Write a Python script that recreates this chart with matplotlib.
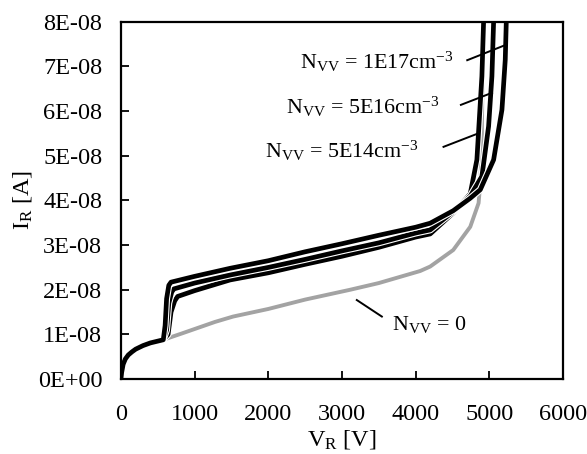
import matplotlib
matplotlib.use("Agg")
import matplotlib.pyplot as plt
import matplotlib.patheffects as pe

plt.rcParams['font.family'] = ['Liberation Serif', 'DejaVu Serif']
plt.rcParams['mathtext.fontset'] = 'custom'
plt.rcParams['mathtext.rm'] = 'Liberation Serif'
plt.rcParams['mathtext.it'] = 'Liberation Serif:italic'

# reverse voltage [V] and leakage current [1E-08 A]
v_start = [0, 10, 30, 60, 100, 150, 200, 300, 400, 500, 575]
i_start = [0, 0.15, 0.33, 0.45, 0.54, 0.61, 0.67, 0.75, 0.81, 0.85, 0.88]

v_0 = [824, 1277, 1522, 2000, 2500, 3111, 3500, 4062, 4198, 4511, 4742, 4855, 4878, 4900, 4915]
i_0 = [1.02, 1.28, 1.40, 1.57, 1.78, 2.0, 2.15, 2.42, 2.52, 2.89, 3.41, 3.94, 4.39, 5.5, 8.0]

v_1e17 = [600, 620, 650, 680, 1000, 1481, 2000, 2500, 3000, 3500, 4000, 4198, 4511, 4742, 4878, 5059, 5172, 5217, 5231]
i_1e17 = [1.2, 1.8, 2.1, 2.17, 2.3, 2.48, 2.65, 2.85, 3.03, 3.22, 3.4, 3.49, 3.77, 4.05, 4.24, 4.91, 6.03, 7.15, 8.0]

v_5e16 = [620, 650, 690, 720, 1000, 1481, 2000, 2500, 3000, 3500, 4000, 4198, 4511, 4742, 4900, 4991, 5036, 5059]
i_5e16 = [1.1, 1.7, 1.95, 2.02, 2.15, 2.33, 2.5, 2.68, 2.87, 3.05, 3.27, 3.34, 3.75, 4.1, 4.54, 5.66, 6.78, 8.0]

v_5e14 = [640, 680, 730, 770, 1000, 1481, 2000, 2500, 3000, 3500, 4000, 4198, 4511, 4742, 4832, 4900, 4923]
i_5e14 = [1.0, 1.5, 1.75, 1.85, 1.98, 2.22, 2.38, 2.57, 2.75, 2.95, 3.18, 3.25, 3.72, 4.15, 4.91, 6.78, 8.0]

y_ticks = [0, 1, 2, 3, 4, 5, 6, 7, 8]
y_labels = ['0E+00', '1E-08', '2E-08', '3E-08', '4E-08', '5E-08', '6E-08', '7E-08', '8E-08']
x_ticks = [0, 1000, 2000, 3000, 4000, 5000, 6000]

fig = plt.figure(figsize=(5.87, 4.54), dpi=100)
ax = fig.add_axes([0.206, 0.165, 0.753, 0.787])

ax.plot(v_start + v_0, i_start + i_0, color='#a3a3a3', lw=2.8, solid_joinstyle='round')
outline = [pe.Stroke(linewidth=5.0, foreground='white'), pe.Normal()]
for v, i in [(v_5e14, i_5e14), (v_5e16, i_5e16), (v_1e17, i_1e17)]:
    ax.plot(v_start + v, i_start + i, color='black', lw=3.4,
            solid_joinstyle='round', path_effects=outline)

# leaders and labels
fs = 17.5
fa = 15.8
ax.plot([4701, 5204], [7.14, 7.47], color='black', lw=1.4)
ax.plot([4615, 5037], [6.14, 6.41], color='black', lw=1.4)
ax.plot([4379, 4833], [5.20, 5.49], color='black', lw=1.4)
ax.plot([3202, 3542], [1.77, 1.40], color='black', lw=1.4)
ax.text(2432, 6.94, r'N$_{\mathrm{VV}}$ = 1E17cm$^{\mathrm{-3}}$', ha='left', va='baseline', fontsize=fa)
ax.text(2242, 5.94, r'N$_{\mathrm{VV}}$ = 5E16cm$^{\mathrm{-3}}$', ha='left', va='baseline', fontsize=fa)
ax.text(1957, 4.95, r'N$_{\mathrm{VV}}$ = 5E14cm$^{\mathrm{-3}}$', ha='left', va='baseline', fontsize=fa)
ax.text(3682, 1.10, r'N$_{\mathrm{VV}}$ = 0', ha='left', va='baseline', fontsize=fa)

ax.set_xlim(0, 6000)
ax.set_ylim(0, 8)
ax.set_xticks(x_ticks)
ax.set_yticks(y_ticks)
ax.set_yticklabels(y_labels)
ax.tick_params(direction='in', length=6, width=1.3, labelsize=fs, top=False, right=False)
ax.tick_params(axis='y', pad=13.5)
ax.tick_params(axis='x', pad=18)
for s in ax.spines.values():
    s.set_linewidth(1.6)

ax.set_xlabel(r'V$_{\mathrm{R}}$ [V]', fontsize=fs, labelpad=2)
ax.set_ylabel(r'I$_{\mathrm{R}}$ [A]', fontsize=fs, labelpad=3)

fig.savefig('out.png', dpi=100)
